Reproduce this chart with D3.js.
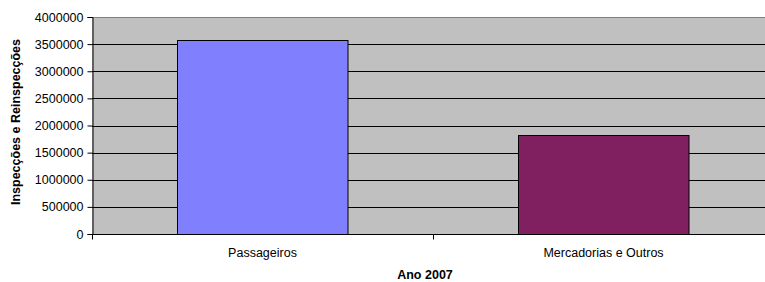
<!DOCTYPE html>
<html>
<head>
<meta charset="utf-8">
<script src="https://cdnjs.cloudflare.com/ajax/libs/d3/7.8.5/d3.min.js"></script>
<style>
  body { margin: 0; background: #fff; }
  svg { display: block; font-family: "Liberation Sans", Arial, sans-serif; }
</style>
</head>
<body>
<div id="root"></div>
<script>
const categories = ["Passageiros", "Mercadorias e Outros"];
const values = [3570000, 1825000];
const colors = ["#8080ff", "#802060"];
const yTicks = [0, 500000, 1000000, 1500000, 2000000, 2500000, 3000000, 3500000, 4000000];

const outerWidth = 765;
const outerHeight = 282;

const margin = { top: 17, right: -9, bottom: 48, left: 92 };
const width = outerWidth - margin.left - margin.right;
const height = outerHeight - margin.top - margin.bottom;

let svg = d3.select("#root")
            .append("svg")
            .attr("width", outerWidth)
            .attr("height", outerHeight);

let chart = svg.append("g")
               .attr("transform", `translate(${margin.left}, ${margin.top})`);

let scaleX = d3.scaleBand().domain(categories).range([0, width]).paddingInner(0.5).paddingOuter(0.25);
let scaleY = d3.scaleLinear().domain([0, 4000000]).range([height, 0]);

// plot area
chart.append("rect")
     .attr("width", width)
     .attr("height", height)
     .attr("fill", "#c0c0c0");

// gridlines
chart.selectAll(".grid")
     .data(yTicks.filter(t => t > 0))
     .enter().append("line")
     .attr("class", "grid")
     .attr("x1", 0)
     .attr("x2", width)
     .attr("y1", d => Math.round(scaleY(d)) + 0.5)
     .attr("y2", d => Math.round(scaleY(d)) + 0.5)
     .attr("stroke", d => d === 4000000 ? "#808080" : "#000")
     .attr("stroke-width", 1);

// bars
chart.selectAll(".bar")
     .data(values)
     .enter().append("rect")
     .attr("class", "bar")
     .attr("x", (d, i) => Math.round(scaleX(categories[i])) + 0.5)
     .attr("y", d => Math.round(scaleY(d)) + 0.5)
     .attr("width", scaleX.bandwidth())
     .attr("height", d => height - Math.round(scaleY(d)))
     .attr("fill", (d, i) => colors[i])
     .attr("stroke", "#000")
     .attr("stroke-width", 1);

// y axis
let yAxis = d3.axisLeft(scaleY).tickValues(yTicks).tickSize(5).tickPadding(4).tickFormat(d3.format("d"));
let gy = chart.append("g").attr("transform", "translate(0.5,0)").call(yAxis);
gy.select(".domain").attr("stroke", "#000");
gy.selectAll("text").style("font-size", "12.5px").attr("fill", "#000");

// x axis: ticks between categories
let xTickPos = [0, width / 2, width];
let gx = chart.append("g").attr("transform", `translate(0, ${height + 0.5})`);
gx.append("line").attr("x1", 0).attr("x2", width).attr("stroke", "#000");
gx.selectAll(".xtick")
  .data(xTickPos)
  .enter().append("line")
  .attr("class", "xtick")
  .attr("x1", d => Math.round(d) + 0.5)
  .attr("x2", d => Math.round(d) + 0.5)
  .attr("y1", 0)
  .attr("y2", 5)
  .attr("stroke", "#000");
gx.selectAll(".xlabel")
  .data(categories)
  .enter().append("text")
  .attr("class", "xlabel")
  .attr("x", d => scaleX(d) + scaleX.bandwidth() / 2)
  .attr("y", 22)
  .attr("text-anchor", "middle")
  .style("font-size", "12.5px")
  .text(d => d);

// axis titles
svg.append("text")
   .attr("x", 425)
   .attr("y", 279)
   .attr("text-anchor", "middle")
   .style("font-size", "12.5px")
   .style("font-weight", "bold")
   .text("Ano 2007");

svg.append("text")
   .attr("transform", `translate(20, 122) rotate(-90)`)
   .attr("text-anchor", "middle")
   .style("font-size", "12.5px")
   .style("font-weight", "bold")
   .text("Inspecções e Reinspecções");
</script>
</body>
</html>
